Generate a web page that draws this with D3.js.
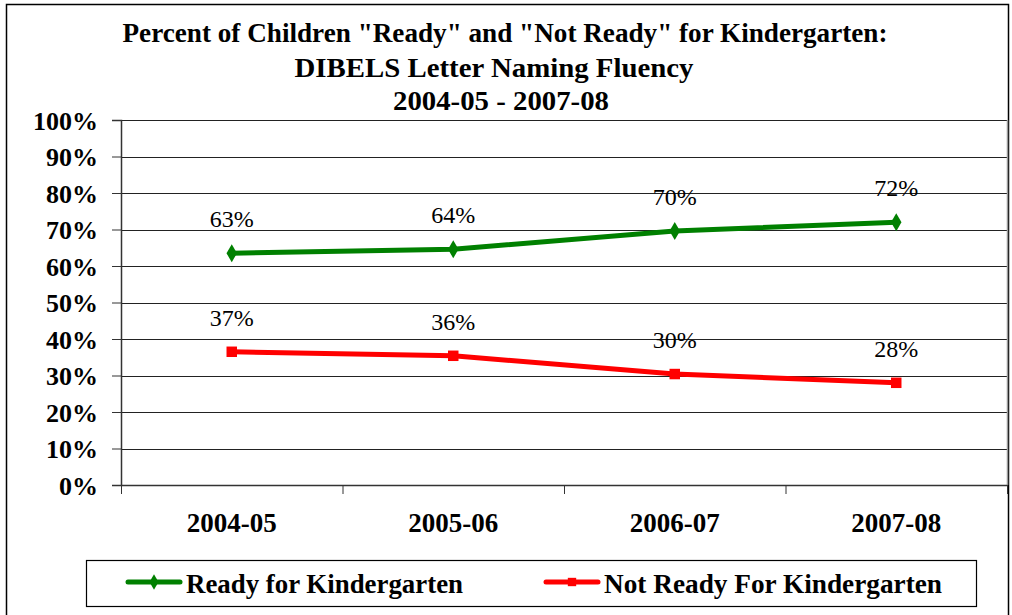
<!DOCTYPE html>
<meta charset="utf-8">
<head>
  <title>Ready for Kindergarten</title>
  <style>
    body { margin: 0; background: #fff; }
    text { font-family: "Liberation Serif", "Times New Roman", serif; }
  </style>
</head>
<body>
  <svg width="1012" height="615"></svg>

  <script src="https://cdnjs.cloudflare.com/ajax/libs/d3/7.8.5/d3.min.js"></script>
  <script>
var years = ['2004-05', '2005-06', '2006-07', '2007-08'];
var ready = [63.5, 64.6, 69.6, 72.0];
var notReady = [36.5, 35.4, 30.4, 28.0];
var readyLabels = ['63%', '64%', '70%', '72%'];
var notReadyLabels = ['37%', '36%', '30%', '28%'];
var yTicks = [0, 10, 20, 30, 40, 50, 60, 70, 80, 90, 100];
var titleLines = ['Percent of  Children "Ready" and "Not Ready" for Kindergarten:',
  'DIBELS Letter Naming Fluency', '2004-05 - 2007-08'];

var svg = d3.select('svg');

// outer frame
svg.append('rect')
  .attr('x', 6.5).attr('y', 4.5)
  .attr('width', 1002).attr('height', 620)
  .attr('fill', 'none').attr('stroke', '#000').attr('stroke-width', 1.5);

var plotLeft = 121, plotRight = 1007, plotTop = 120, plotBottom = 485;

var x = d3.scaleBand().domain(years).range([plotLeft, plotRight]);
var y = d3.scaleLinear().domain([0, 100]).range([plotBottom, plotTop]);

// gridlines
svg.append('g')
  .selectAll('line')
  .data(yTicks.slice(1))
  .enter()
  .append('line')
  .attr('x1', plotLeft).attr('x2', plotRight)
  .attr('y1', function(d) { return Math.round(y(d)) + 0.5; })
  .attr('y2', function(d) { return Math.round(y(d)) + 0.5; })
  .attr('stroke', '#222').attr('stroke-width', 1);

// right border of plot
svg.append('line')
  .attr('x1', plotRight + 0.5).attr('x2', plotRight + 0.5)
  .attr('y1', plotTop).attr('y2', plotBottom)
  .attr('stroke', '#999').attr('stroke-width', 1.5);

var yAxis = d3.axisLeft(y)
  .tickValues(yTicks)
  .tickFormat(function(d) { return d + '%'; })
  .tickSize(9)
  .tickPadding(14);

var gy = svg.append('g')
  .attr('transform', 'translate(' + plotLeft + ',0)')
  .call(yAxis);
gy.select('.domain').attr('stroke', '#333').attr('stroke-width', 1.5);
gy.selectAll('.tick line').attr('stroke', '#333');
gy.selectAll('text')
  .style('font-size', '26px').style('font-weight', 'bold')
  .attr('fill', '#000').attr('dy', '0.35em');

var xAxis = d3.axisBottom(x).tickSize(0).tickPadding(28);
var gx = svg.append('g')
  .attr('transform', 'translate(0,' + plotBottom + ')')
  .call(xAxis);
gx.select('.domain').attr('stroke', '#333').attr('stroke-width', 1.5);
gx.selectAll('text')
  .style('font-size', '27px').style('font-weight', 'bold')
  .attr('fill', '#000');

// x ticks between categories
svg.append('g')
  .selectAll('line')
  .data(years.concat(['end']))
  .enter()
  .append('line')
  .attr('x1', function(d, i) { return plotLeft + i * x.step() + 0.5; })
  .attr('x2', function(d, i) { return plotLeft + i * x.step() + 0.5; })
  .attr('y1', plotBottom).attr('y2', plotBottom + 9)
  .attr('stroke', '#333');

var line = d3.line()
  .x(function(d, i) { return x(years[i]) + x.bandwidth() / 2; })
  .y(function(d) { return y(d); });

function drawSeries(vals, labels, color, shape) {
  svg.append('path')
    .datum(vals)
    .attr('d', line)
    .attr('fill', 'none')
    .attr('stroke', color)
    .attr('stroke-width', 5);
  svg.append('g')
    .selectAll('path')
    .data(vals)
    .enter()
    .append('path')
    .attr('transform', function(d, i) {
      return 'translate(' + (x(years[i]) + x.bandwidth() / 2) + ',' + y(d) + ')';
    })
    .attr('d', d3.symbol().type(shape).size(shape === d3.symbolSquare ? 110 : 95))
    .attr('fill', color);
  svg.append('g')
    .selectAll('text')
    .data(vals)
    .enter()
    .append('text')
    .attr('x', function(d, i) { return x(years[i]) + x.bandwidth() / 2; })
    .attr('y', function(d) { return y(d) - 26; })
    .attr('text-anchor', 'middle')
    .style('font-size', '24px')
    .text(function(d, i) { return labels[i]; });
}

drawSeries(ready, readyLabels, '#008000', d3.symbolDiamond);
drawSeries(notReady, notReadyLabels, '#ff0000', d3.symbolSquare);

// title (condensed bold serif, like the original)
var titleBox = [{cx: 505, w: 765}, {cx: 494, w: 399}, {cx: 501, w: 216}];
svg.append('g')
  .selectAll('text')
  .data(titleLines)
  .enter()
  .append('text')
  .attr('x', function(d, i) { return titleBox[i].cx; })
  .attr('y', function(d, i) { return [42, 77, 110][i]; })
  .attr('text-anchor', 'middle')
  .attr('textLength', function(d, i) { return titleBox[i].w; })
  .attr('lengthAdjust', 'spacingAndGlyphs')
  .style('font-size', '27px')
  .style('font-weight', 'bold')
  .text(function(d) { return d; });

// legend
var legend = svg.append('g');
legend.append('rect')
  .attr('x', 86.5).attr('y', 560.5)
  .attr('width', 890).attr('height', 46)
  .attr('fill', '#fff').attr('stroke', '#000').attr('stroke-width', 1.2);

var legendItems = [
  {name: 'Ready for Kindergarten', color: '#008000', shape: d3.symbolDiamond, x: 128, w: 277},
  {name: 'Not Ready For Kindergarten', color: '#ff0000', shape: d3.symbolSquare, x: 546, w: 338}
];
legendItems.forEach(function(it) {
  legend.append('line')
    .attr('x1', it.x).attr('x2', it.x + 52)
    .attr('y1', 582).attr('y2', 582)
    .attr('stroke', it.color).attr('stroke-width', 5)
    .attr('stroke-linecap', 'round');
  legend.append('path')
    .attr('transform', 'translate(' + (it.x + 26) + ',582)')
    .attr('d', d3.symbol().type(it.shape).size(70))
    .attr('fill', it.color);
  legend.append('text')
    .attr('x', it.x + 58).attr('y', 593)
    .attr('textLength', it.w)
    .attr('lengthAdjust', 'spacingAndGlyphs')
    .style('font-size', '27px').style('font-weight', 'bold')
    .text(it.name);
});
  </script>
</body>
</html>
